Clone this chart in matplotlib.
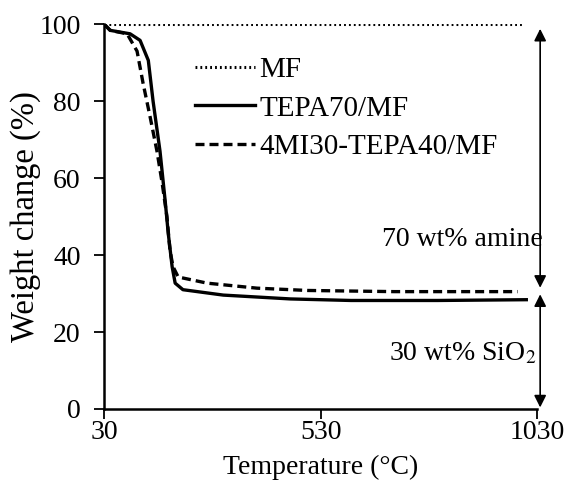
import matplotlib.pyplot as plt

# temperature (degC) / weight (%)
mf_t = [30, 200, 400, 600, 800, 1000]
mf_w = [100, 100, 100, 100, 100, 100]

tepa_t = [30, 44, 90, 113, 132, 143, 159, 171, 178, 187, 194, 212, 305, 460, 600, 800, 1005]
tepa_w = [100, 98.4, 97.5, 95.8, 90.6, 80, 67, 54, 45.7, 37, 32.7, 31, 29.6, 28.6, 28.2, 28.2, 28.4]

mi_t = [30, 44, 83, 106, 120, 136, 152, 164, 175, 182, 189, 201, 268, 383, 500, 700, 985]
mi_w = [100, 98.4, 97.5, 93, 84.6, 76, 67, 58.7, 50, 41.3, 37, 34.3, 32.7, 31.4, 30.8, 30.5, 30.5]

xticks = [30, 530, 1030]
yticks = [0, 20, 40, 60, 80, 100]

plt.rcParams['font.family'] = ['Liberation Serif', 'DejaVu Serif']
plt.rcParams['font.size'] = 20
plt.rcParams['mathtext.fontset'] = 'stix'

fig = plt.figure(figsize=(5.66, 4.84), dpi=100)
ax = fig.add_axes([0.184, 0.155, 0.765, 0.795])

ax.plot(mf_t, mf_w, color='black', linestyle=(0, (0.6, 1.0)), linewidth=2.2, label='MF')
ax.plot(tepa_t, tepa_w, color='black', linestyle='-', linewidth=2.4, label='TEPA70/MF')
ax.plot(mi_t, mi_w, color='black', linestyle=(0, (2.7, 1.5)), linewidth=2.4, label='4MI30-TEPA40/MF')

ax.set_xlim(30, 1030)
ax.set_ylim(0, 100)
ax.set_xticks(xticks)
ax.set_yticks(yticks)
ax.spines['top'].set_visible(False)
ax.spines['right'].set_visible(False)
ax.spines['left'].set_linewidth(1.8)
ax.spines['bottom'].set_linewidth(1.8)
ax.tick_params(direction='out', length=7, width=1.3)
ax.tick_params(axis='x', pad=1)
ax.tick_params(axis='y', pad=10)

ax.set_xlabel('Temperature (°C)', labelpad=7)
ax.set_ylabel('Weight change (%)', labelpad=-1.5, fontsize=23.5)

leg = ax.legend(loc='upper left', bbox_to_anchor=(0.21, 0.916), frameon=False, fontsize=21,
                handlelength=2.05, handletextpad=0.15, labelspacing=0.42, borderpad=0,
                borderaxespad=0)

# composition arrows
arrow = dict(arrowstyle='<|-|>', color='black', linewidth=1.2, mutation_scale=18, shrinkA=0, shrinkB=0)
ax.annotate('', xy=(1037, 98.8), xytext=(1037, 31.5), arrowprops=arrow, annotation_clip=False)
ax.annotate('', xy=(1037, 29.8), xytext=(1037, 0.4), arrowprops=arrow, annotation_clip=False)
ax.text(857, 44, '70 wt% amine', ha='center', va='center')
ax.text(857, 14.5, '30 wt% SiO$_2$', ha='center', va='center')

fig.savefig('out.png', dpi=100)
